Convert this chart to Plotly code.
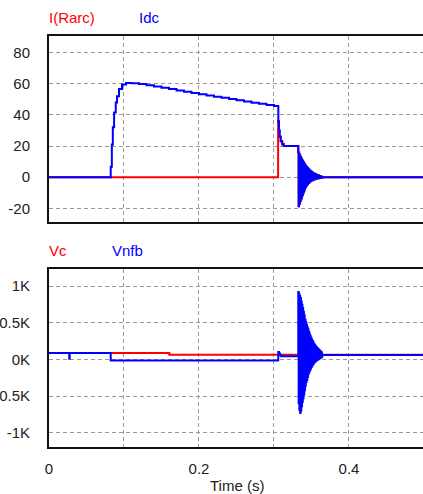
import plotly.graph_objects as go

# ---------------- data ----------------
# Top panel: Idc (blue) and I(Rarc) (red), amperes
idc_t = [0.0, 0.0823, 0.0838, 0.0851, 0.0868, 0.0890, 0.0907, 0.0933, 0.0973, 0.1027,
         0.110, 0.120, 0.130, 0.140, 0.150, 0.160, 0.170, 0.180, 0.190, 0.200,
         0.210, 0.220, 0.230, 0.240, 0.250, 0.260, 0.270, 0.280, 0.290, 0.300,
         0.3058, 0.3066, 0.3075, 0.3090, 0.3110, 0.3130]
idc_v = [0.0, 6.7, 21.0, 32.0, 41.5, 48.0, 52.0, 56.6, 59.5, 60.5,
         60.4, 59.8, 59.0, 58.2, 57.4, 56.6, 55.7, 54.9, 54.1, 53.3,
         52.5, 51.7, 51.0, 50.2, 49.4, 48.6, 47.8, 47.1, 46.4, 45.7,
         36.0, 30.0, 26.0, 23.0, 21.2, 20.0]
# decaying ringing after 0.3324 s (peaks / troughs per 1 ms cycle)
ring_start = 0.3324
ring_period = 0.001
idc_ring_hi = [16, 15, 14, 13, 12, 11, 10.2, 9.4, 8.6, 7.9, 7.2, 6.6, 6.0, 5.4, 4.9, 4.4,
               4.0, 3.6, 3.2, 2.9, 2.6, 2.3, 2.0, 1.8, 1.6, 1.4, 1.2, 1.0, 0.8, 0.6, 0.4, 0.2]
idc_ring_lo = [-18.7, -17, -15.5, -14.2, -13, -11.6, -10.2, -8.9, -7.6, -6.4, -5.5, -4.8,
               -4.2, -3.7, -3.2, -2.8, -2.5, -2.2, -1.9, -1.7, -1.5, -1.3, -1.1, -1.0,
               -0.9, -0.8, -0.7, -0.6, -0.5, -0.4, -0.3, -0.2]
idc_end_t = [0.3644, 0.5]
idc_end_v = [0.0, 0.0]
arc_break_t = 0.3055
arc_break_v = 36.0

# Bottom panel: Vc (red) and Vnfb (blue), volts
vc_t = [0.0, 0.1604, 0.5]
vc_v = [86.0, 64.0, 64.0]

vnfb_t = [0.0, 0.0270, 0.0276, 0.0823, 0.3057, 0.3068, 0.3080, 0.3095]
vnfb_v = [86.0, 10.0, 86.0, -14.0, 100.0, 80.0, 55.0, 41.0]
vnfb_ring_hi = [917, 895, 865, 835, 790, 745, 700, 650, 600, 545, 510, 475, 440, 410, 380, 350,
                320, 295, 270, 250, 230, 210, 195, 180, 168, 156, 145, 135, 125, 115, 105, 95]
vnfb_ring_lo = [-600, -690, -731, -700, -640, -580, -530, -480, -420, -360, -310, -280, -240,
                -200, -170, -150, -125, -105, -85, -68, -52, -40, -30, -20, -12, -5, 0, 8,
                15, 22, 28, 34]
vnfb_end_t = [0.3644, 0.5]
vnfb_end_v = [58.0, 58.0]

x_tickvals = [0.0, 0.1, 0.2, 0.3, 0.4]
x_ticktext = ["0", "", "0.2", "", "0.4"]
top_tickvals = [-20, 0, 20, 40, 60, 80]
top_ticktext = ["-20", "0", "20", "40", "60", "80"]
bot_tickvals = [-1000, -500, 0, 500, 1000]
bot_ticktext = ["-1K", "-0.5K", "0K", "0.5K", "1K"]


def with_ring(t0, v0, hi, lo, t_end, v_end):
    t = list(t0)
    v = list(v0)
    for i, (h, l) in enumerate(zip(hi, lo)):
        t += [ring_start + i * ring_period, ring_start + i * ring_period + ring_period / 2]
        v += [h, l]
    return t + list(t_end), v + list(v_end)


idc_T, idc_V = with_ring(idc_t, idc_v, idc_ring_hi, idc_ring_lo, idc_end_t, idc_end_v)
vnfb_T, vnfb_V = with_ring(vnfb_t, vnfb_v, vnfb_ring_hi, vnfb_ring_lo, vnfb_end_t, vnfb_end_v)

# I(Rarc): zero until the breaker opens, then carries the line current
k = next(i for i, tt in enumerate(idc_T) if tt > arc_break_t)
arc_T = [0.0, arc_break_t] + idc_T[k:]
arc_V = [0.0, arc_break_v] + idc_V[k:]

# ---------------- layout helpers ----------------
W, H = 423, 494
ML, MR, MT, MB = 49, 0, 36, 47
PH = H - MT - MB


def py(ypx):
    return (H - MB - ypx) / PH


def px(xpx):
    return (xpx - ML) / (W - ML - MR)


RED = "#ff0000"
BLUE = "#0000ff"
FONT = "Liberation Sans, Arial, sans-serif"
FS = 15

fig = go.Figure()
fig.add_trace(go.Scatter(x=arc_T, y=arc_V, mode="lines", line=dict(color=RED, width=2, shape="hv"),
                         xaxis="x", yaxis="y", showlegend=False))
fig.add_trace(go.Scatter(x=idc_T, y=idc_V, mode="lines", line=dict(color=BLUE, width=2, shape="hv"),
                         xaxis="x", yaxis="y", showlegend=False))
fig.add_trace(go.Scatter(x=vc_t, y=vc_v, mode="lines", line=dict(color=RED, width=2, shape="hv"),
                         xaxis="x2", yaxis="y2", showlegend=False))
fig.add_trace(go.Scatter(x=vnfb_T, y=vnfb_V, mode="lines", line=dict(color=BLUE, width=2, shape="hv"),
                         xaxis="x2", yaxis="y2", showlegend=False))

grid = dict(showgrid=True, gridcolor="#9a9a9a", gridwidth=1, griddash="4px,3px", zeroline=False)
xcommon = dict(range=[0, 0.4987], tickvals=x_tickvals, ticktext=x_ticktext, showline=True,
               linecolor="#111111", linewidth=2, mirror=True, ticks="outside", ticklen=7,
               tickcolor="rgba(0,0,0,0)", fixedrange=True, **grid)
ycommon = dict(showline=True, linecolor="#111111", linewidth=2, ticks="outside", ticklen=14,
               tickcolor="rgba(0,0,0,0)", **grid)

fig.update_layout(
    width=W, height=H,
    margin=dict(l=ML, r=MR, t=MT, b=MB, autoexpand=False),
    paper_bgcolor="white", plot_bgcolor="white",
    font=dict(family=FONT, size=FS, color="#222222"),
    xaxis=dict(domain=[0, 1], anchor="y", showticklabels=False, **xcommon),
    yaxis=dict(domain=[py(222), 1], anchor="x", range=[-28.8, 90.7],
               tickvals=top_tickvals, ticktext=top_ticktext, **ycommon),
    xaxis2=dict(domain=[0, 1], anchor="y2", showticklabels=True, **xcommon),
    yaxis2=dict(domain=[0, py(269.3)], anchor="x2", range=[-1195, 1228],
                tickvals=bot_tickvals, ticktext=bot_ticktext, **ycommon),
)

ann = [
    ("I(Rarc)", 47, 17.5, RED),
    ("Idc", 137, 17.5, BLUE),
    ("Vc", 47, 250, RED),
    ("Vnfb", 110, 250, BLUE),
]
for txt, x0, y0, col in ann:
    fig.add_annotation(text=txt, xref="paper", yref="paper", x=px(x0), y=py(y0),
                       xanchor="left", yanchor="middle", showarrow=False,
                       font=dict(family=FONT, size=FS, color=col))
fig.add_annotation(text="Time (s)", xref="paper", yref="paper", x=px(237), y=py(485),
                   xanchor="center", yanchor="middle", showarrow=False,
                   font=dict(family=FONT, size=FS, color="#222222"))

fig.write_html("out.html", config={"displayModeBar": False},
               post_script="document.body.style.margin='0';document.body.style.overflow='hidden';")
